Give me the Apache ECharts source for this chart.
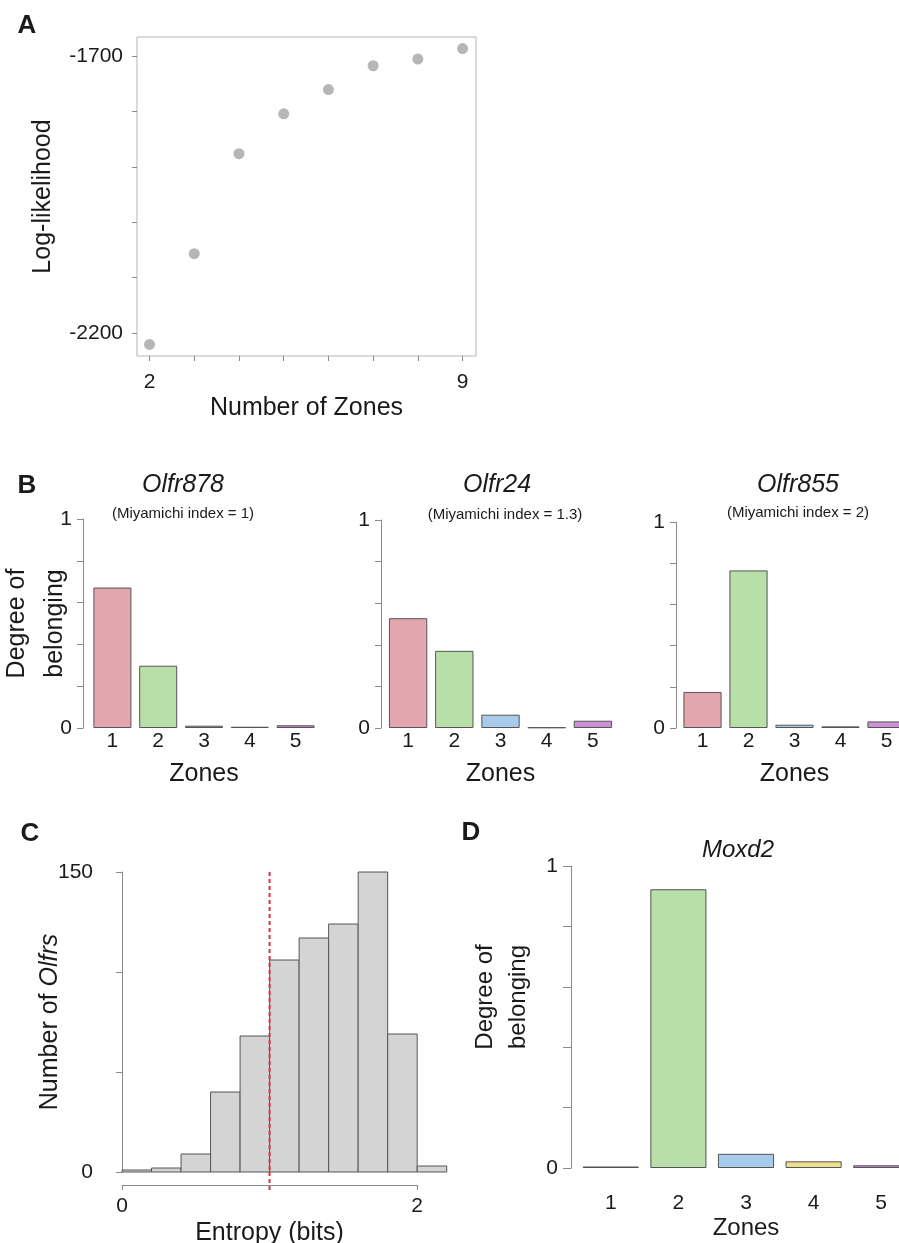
<!DOCTYPE html>
<html>
<head>
<meta charset="utf-8">
<script src="https://cdn.jsdelivr.net/npm/echarts@6/dist/echarts.min.js"></script>
<style>
  html, body { margin: 0; padding: 0; background: #fff; }
  #main { width: 899px; height: 1243px; }
</style>
</head>
<body>
<div id="main"></div>
<script>
// A: log-likelihood per number of zones
var zoneNumbers = [2, 3, 4, 5, 6, 7, 8, 9];
var logLikelihood = [-2221, -2057, -1876, -1804, -1760, -1717, -1705, -1686];

// B / D: degree of belonging per zone
var zones = ['1', '2', '3', '4', '5'];
var olfr878 = [0.672, 0.298, 0.011, 0.006, 0.013];
var olfr24 = [0.528, 0.371, 0.064, 0.003, 0.035];
var olfr855 = [0.175, 0.765, 0.016, 0.008, 0.032];
var moxd2 = [0.005, 0.923, 0.047, 0.022, 0.009];
var zoneColors = ['#e3a6ae', '#b8dfa8', '#a8cbec', '#ecdf8e', '#cf8fd8'];

// C: entropy histogram
var binEdges = [0, 0.2, 0.4, 0.6, 0.8, 1.0, 1.2, 1.4, 1.6, 1.8, 2.0, 2.2];
var olfrCounts = [1, 2, 9, 40, 68, 106, 117, 124, 150, 69, 3];
var entropyCut = 1;

var FONT = 'Liberation Sans, Arial, Helvetica, sans-serif';
var TXT = '#1a1a1a';
var AX = '#8a8a8a';

var chart = echarts.init(document.getElementById('main'));

var histData = olfrCounts.map(function (c, i) {
    return [binEdges[i], binEdges[i + 1], c];
});

function zoneXAxis(grid, fs, margin, nameGap, nameFs) {
    return {
        type: 'category', gridIndex: grid, data: zones,
        axisLine: { show: false }, axisTick: { show: false },
        axisLabel: { fontSize: fs, margin: margin, color: TXT, fontFamily: FONT },
        name: 'Zones', nameLocation: 'middle', nameGap: nameGap, nameMoveOverlap: false,
        nameTextStyle: { fontSize: nameFs, color: TXT, fontFamily: FONT }
    };
}

function degreeYAxis(grid, offset, tickLen, labelMargin, withName, nameGap, nameFs, lh) {
    var ax = {
        type: 'value', gridIndex: grid, min: 0, max: 1, interval: 0.2, offset: offset,
        axisLine: { show: true, lineStyle: { color: AX } },
        axisTick: { show: true, length: tickLen, lineStyle: { color: AX } },
        axisLabel: { customValues: [0, 1], fontSize: 21, margin: labelMargin, color: TXT, fontFamily: FONT },
        splitLine: { show: false }
    };
    if (withName) {
        ax.name = 'Degree of\nbelonging';
        ax.nameLocation = 'middle';
        ax.nameRotate = 90;
        ax.nameGap = nameGap;
        ax.nameMoveOverlap = false;
        ax.nameTextStyle = { fontSize: nameFs, lineHeight: lh, color: TXT, fontFamily: FONT };
    }
    return ax;
}

function zoneBars(idx, values) {
    return {
        type: 'bar', xAxisIndex: idx, yAxisIndex: idx, data: values,
        barCategoryGap: '17%',
        itemStyle: {
            color: function (p) { return zoneColors[p.dataIndex]; },
            borderColor: '#555', borderWidth: 1
        },
        silent: true
    };
}

function label(x, y, text, size, style, weight) {
    return {
        type: 'text', x: x, y: y,
        style: {
            text: text, fontSize: size, fontStyle: style || 'normal', fontWeight: weight || 'normal',
            fontFamily: FONT, fill: TXT, align: 'center', verticalAlign: 'middle'
        }
    };
}

function grid(l, t, w, h, extra) {
    var g = { left: l, top: t, width: w, height: h, outerBoundsMode: 'none', containLabel: false };
    for (var k in extra) g[k] = extra[k];
    return g;
}

var option = {
    animation: false,
    backgroundColor: '#fff',
    grid: [
        grid(137, 37, 339, 319, { show: true, borderColor: '#b5b5b5', borderWidth: 1 }),
        grid(89.5, 519, 229, 209),
        grid(385, 520, 231, 208),
        grid(679.5, 522, 230, 206),
        grid(108, 872, 352, 300),
        grid(122, 1172, 295, 20),
        grid(577, 866, 338, 302)
    ],
    xAxis: [
        {
            type: 'value', gridIndex: 0, min: 1.72, max: 9.3,
            axisLine: { show: false },
            axisTick: { show: true, customValues: zoneNumbers, length: 5, lineStyle: { color: AX } },
            axisLabel: { customValues: [2, 9], fontSize: 21, margin: 16, color: TXT, fontFamily: FONT },
            splitLine: { show: false },
            name: 'Number of Zones', nameLocation: 'middle', nameGap: 40, nameMoveOverlap: false,
            nameTextStyle: { fontSize: 25, color: TXT, fontFamily: FONT }
        },
        zoneXAxis(1, 21, 3, 34, 25),
        zoneXAxis(2, 21, 3, 34, 25),
        zoneXAxis(3, 21, 3, 34, 25),
        { type: 'value', gridIndex: 4, min: -0.095, max: 2.29, show: false },
        {
            type: 'value', gridIndex: 5, min: 0, max: 2, interval: 1,
            axisLine: { show: true, onZero: true, lineStyle: { color: AX } },
            axisTick: { show: true, length: 5, lineStyle: { color: AX } },
            axisLabel: { customValues: [0, 2], fontSize: 21, margin: 4, color: TXT, fontFamily: FONT },
            splitLine: { show: false },
            name: 'Entropy (bits)', nameLocation: 'middle', nameGap: 29, nameMoveOverlap: false,
            nameTextStyle: { fontSize: 25, color: TXT, fontFamily: FONT }
        },
        zoneXAxis(6, 21, 25, 48, 24)
    ],
    yAxis: [
        {
            type: 'value', gridIndex: 0, min: -2242, max: -1665,
            axisLine: { show: false },
            axisTick: { show: true, customValues: [-2200, -2100, -2000, -1900, -1800, -1700], length: 5, lineStyle: { color: AX } },
            axisLabel: {
                customValues: [-2200, -1700], fontSize: 21, margin: 14, color: TXT, fontFamily: FONT,
                formatter: function (v) { return String(v); }
            },
            splitLine: { show: false },
            name: 'Log-likelihood', nameLocation: 'middle', nameRotate: 90, nameGap: 81, nameMoveOverlap: false,
            nameTextStyle: { fontSize: 25, color: TXT, fontFamily: FONT }
        },
        degreeYAxis(1, 6.5, 6, 11, true, 9, 25, 38),
        degreeYAxis(2, 4, 6, 11, false),
        degreeYAxis(3, 3.5, 6, 11, false),
        {
            type: 'value', gridIndex: 4, min: 0, max: 150, interval: 50,
            axisLine: { show: true, lineStyle: { color: AX } },
            axisTick: { show: true, length: 6, lineStyle: { color: AX } },
            axisLabel: { customValues: [0, 150], fontSize: 21, margin: 15, color: TXT, fontFamily: FONT },
            splitLine: { show: false },
            name: 'Number of {i|Olfrs}', nameLocation: 'middle', nameRotate: 90, nameGap: 45, nameMoveOverlap: false,
            nameTextStyle: {
                fontSize: 25, color: TXT, fontFamily: FONT,
                rich: { i: { fontSize: 25, fontStyle: 'italic', color: TXT, fontFamily: FONT } }
            }
        },
        { type: 'value', gridIndex: 5, min: -0.54, max: 1, show: false },
        degreeYAxis(6, 6, 8, 13, false)
    ],
    series: [
        {
            type: 'scatter', xAxisIndex: 0, yAxisIndex: 0,
            data: zoneNumbers.map(function (z, i) { return [z, logLikelihood[i]]; }),
            symbolSize: 11,
            itemStyle: { color: '#a4a4a4' },
            silent: true
        },
        zoneBars(1, olfr878),
        zoneBars(2, olfr24),
        zoneBars(3, olfr855),
        {
            type: 'custom', xAxisIndex: 4, yAxisIndex: 4, data: histData,
            renderItem: function (params, api) {
                var p0 = api.coord([api.value(0), api.value(2)]);
                var p1 = api.coord([api.value(1), 0]);
                return {
                    type: 'rect',
                    shape: { x: p0[0], y: p0[1], width: p1[0] - p0[0], height: p1[1] - p0[1] },
                    style: { fill: '#d4d4d4', stroke: '#555', lineWidth: 1 }
                };
            },
            silent: true
        },
        {
            type: 'line', xAxisIndex: 4, yAxisIndex: 4, z: 5,
            data: [[entropyCut, 150], [entropyCut, 0]],
            symbol: 'none', lineStyle: { color: '#d8343f', width: 2, type: [4, 3] },
            silent: true
        },
        {
            type: 'line', xAxisIndex: 5, yAxisIndex: 5, z: 5,
            data: [[entropyCut, 1], [entropyCut, -0.54]],
            symbol: 'none', lineStyle: { color: '#d8343f', width: 2, type: [4, 3] },
            silent: true
        },
        zoneBars(6, moxd2)
    ],
    graphic: [
        label(27, 26, 'A', 26, 'normal', 'bold'),
        label(27, 486, 'B', 26, 'normal', 'bold'),
        label(30, 834, 'C', 26, 'normal', 'bold'),
        label(471, 833, 'D', 26, 'normal', 'bold'),
        label(183, 485, 'Olfr878', 25, 'italic'),
        label(183, 514, '(Miyamichi index = 1)', 15),
        label(497, 485, 'Olfr24', 25, 'italic'),
        label(505, 515, '(Miyamichi index = 1.3)', 15),
        label(798, 485, 'Olfr855', 25, 'italic'),
        label(798, 513, '(Miyamichi index = 2)', 15),
        label(738, 850, 'Moxd2', 24, 'italic'),
        {
            type: 'text', x: 502, y: 997, rotation: Math.PI / 2,
            style: {
                text: 'Degree of\nbelonging', fontSize: 24, lineHeight: 33, fontFamily: FONT,
                fill: TXT, align: 'center', verticalAlign: 'middle'
            }
        }
    ]
};

chart.setOption(option);
</script>
</body>
</html>
